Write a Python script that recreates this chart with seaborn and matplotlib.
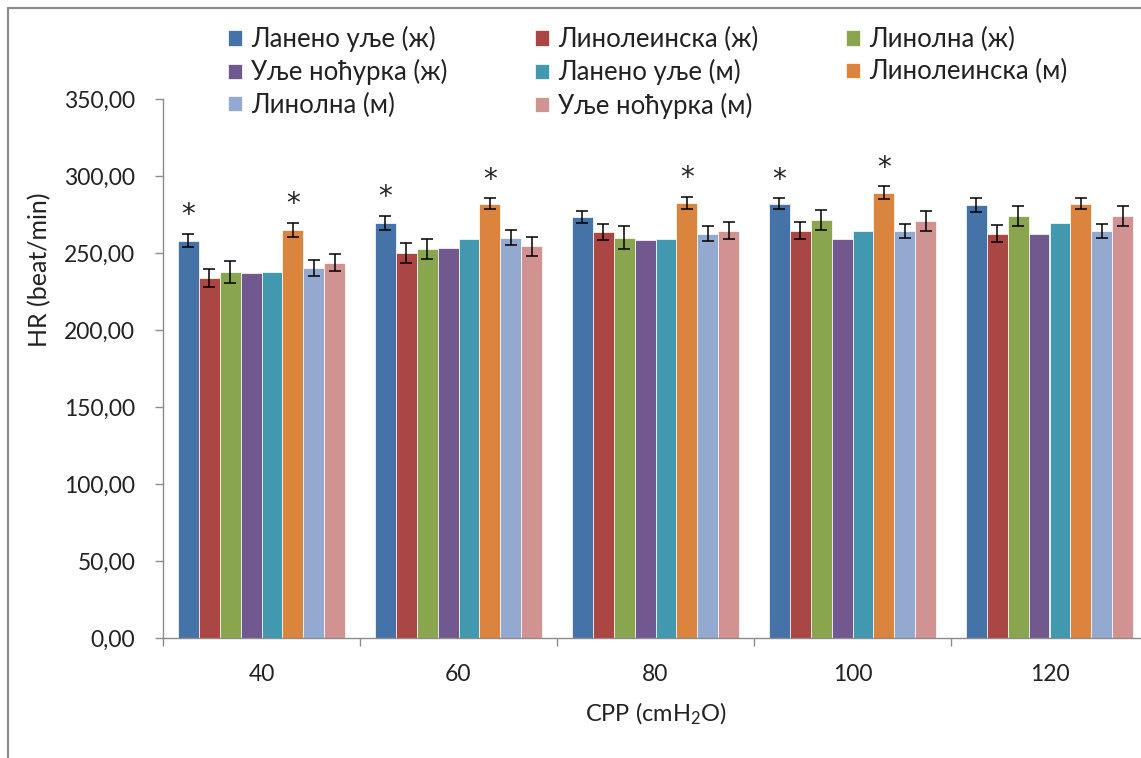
import matplotlib
matplotlib.use("Agg")
import matplotlib.pyplot as plt
from matplotlib.ticker import MultipleLocator, FuncFormatter, FixedLocator
from matplotlib.lines import Line2D
import numpy as np
import pandas as pd
import seaborn as sns

cpp = ["40", "60", "80", "100", "120"]
series = ["Ланено уље (ж)", "Линолеинска (ж)", "Линолна (ж)", "Уље ноћурка (ж)",
          "Ланено уље (м)", "Линолеинска (м)", "Линолна (м)", "Уље ноћурка (м)"]
colors = ["#4572A7", "#AA4643", "#89A54E", "#71588F", "#4198AF", "#DB843D", "#93A9CF", "#D19392"]

hr = {
    "Ланено уље (ж)":  [258.0, 269.6, 273.5, 281.9, 281.0],
    "Линолеинска (ж)": [233.5, 250.1, 263.7, 264.4, 262.5],
    "Линолна (ж)":     [237.8, 252.7, 260.0, 271.7, 274.1],
    "Уље ноћурка (ж)": [236.9, 253.4, 258.5, 259.2, 262.5],
    "Ланено уље (м)":  [237.8, 259.2, 259.2, 264.4, 269.3],
    "Линолеинска (м)": [265.0, 281.9, 282.6, 289.2, 281.9],
    "Линолна (м)":     [240.2, 260.0, 262.5, 264.4, 264.4],
    "Уље ноћурка (м)": [243.6, 254.4, 264.4, 270.9, 274.1],
}
err = {
    "Ланено уље (ж)":  [4.2, 4.5, 3.9, 3.6, 4.5],
    "Линолеинска (ж)": [5.8, 6.7, 5.4, 5.6, 5.6],
    "Линолна (ж)":     [7.3, 6.3, 7.3, 6.5, 6.7],
    "Уље ноћурка (ж)": [np.nan] * 5,
    "Ланено уље (м)":  [np.nan] * 5,
    "Линолеинска (м)": [4.3, 3.6, 4.0, 4.1, 3.6],
    "Линолна (м)":     [5.0, 4.8, 4.9, 4.7, 4.7],
    "Уље ноћурка (м)": [5.6, 6.3, 5.6, 6.5, 6.7],
}
# significance marks: (CPP group, series)
stars = [("40", "Ланено уље (ж)"), ("40", "Линолеинска (м)"),
         ("60", "Ланено уље (ж)"), ("60", "Линолеинска (м)"),
         ("80", "Линолеинска (м)"),
         ("100", "Ланено уље (ж)"), ("100", "Линолеинска (м)")]

rows = []
for s in series:
    for i, c in enumerate(cpp):
        rows.append({"CPP": c, "Series": s, "HR": hr[s][i], "SE": err[s][i]})
df = pd.DataFrame(rows)

sns.set_theme(style="white")
plt.rcParams["font.family"] = ["Lato", "Noto Sans", "DejaVu Sans"]
plt.rcParams["mathtext.default"] = "regular"

W, H = 1141, 758
fig = plt.figure(figsize=(W / 100, H / 100), dpi=100)
ax = fig.add_axes([163 / W, 120 / H, 985 / W, 539 / H])

sns.barplot(data=df, x="CPP", y="HR", hue="Series", order=cpp, hue_order=series,
            palette=colors, saturation=1, width=0.851, errorbar=None,
            edgecolor="white", linewidth=0.5, ax=ax)

for s, cont in zip(series, ax.containers):
    xs = [p.get_x() + p.get_width() / 2 for p in cont.patches]
    ys = [p.get_height() for p in cont.patches]
    e = np.array(err[s], dtype=float)
    if not np.all(np.isnan(e)):
        ax.errorbar(xs, ys, yerr=e, fmt="none", ecolor="black", elinewidth=1.1,
                    capsize=4.3, capthick=1.1, zorder=5)
    for c, x, y, ee in zip(cpp, xs, ys, e):
        if (c, s) in stars:
            top = y + (0 if np.isnan(ee) else ee)
            ax.text(x, top + 7, "*", ha="center", va="baseline", fontsize=20,
                    family="DejaVu Sans", color="#222222", zorder=6)

ax.set_xlim(-0.5, 4.5)
ax.set_ylim(0, 350)
ax.yaxis.set_major_locator(MultipleLocator(50))
ax.yaxis.set_major_formatter(FuncFormatter(lambda v, p: f"{v:.2f}".replace(".", ",")))
ax.xaxis.set_minor_locator(FixedLocator(np.arange(-0.5, 4.6, 1.0)))
ax.tick_params(axis="x", which="major", length=0, pad=19, labelsize=16.5, colors="#222222")
ax.tick_params(axis="x", which="minor", length=6, width=1, color="#8c8c8c", direction="out", bottom=True)
ax.tick_params(axis="y", which="major", length=6, width=1, color="#8c8c8c", direction="out",
               left=True, pad=14, labelsize=16.5, labelcolor="#222222")
for side in ["top", "right"]:
    ax.spines[side].set_visible(False)
for side in ["left", "bottom"]:
    ax.spines[side].set_color("#8c8c8c")
    ax.spines[side].set_linewidth(1.0)
ax.grid(False)

ax.set_xlabel("CPP (cmH$_2$O)", fontsize=17, color="#222222", labelpad=11)
ax.set_ylabel("")
fig.text(40 / W, 1 - 270 / H, "HR (beat/min)", rotation=90, ha="center", va="center",
         fontsize=18, color="#222222")

handles, labels = ax.get_legend_handles_labels()
ax.get_legend().remove()
order = [0, 3, 6, 1, 4, 7, 2, 5]
fig.legend([handles[i] for i in order], [labels[i] for i in order], ncol=3,
           loc="upper left", bbox_to_anchor=(228 / W, 1 - 26 / H), frameon=False,
           borderpad=0, borderaxespad=0, handlelength=0.55, handleheight=0.55,
           handletextpad=0.35, columnspacing=3.4, labelspacing=0.28, fontsize=18.5,
           labelcolor="#222222")

fig.add_artist(Line2D([8 / W, 8 / W], [0, 1 - 8 / H], transform=fig.transFigure,
                      color="#8c8c8c", linewidth=1.6))
fig.add_artist(Line2D([8 / W, 1], [1 - 8 / H, 1 - 8 / H], transform=fig.transFigure,
                      color="#8c8c8c", linewidth=1.6))

fig.savefig("out.png", dpi=100)
